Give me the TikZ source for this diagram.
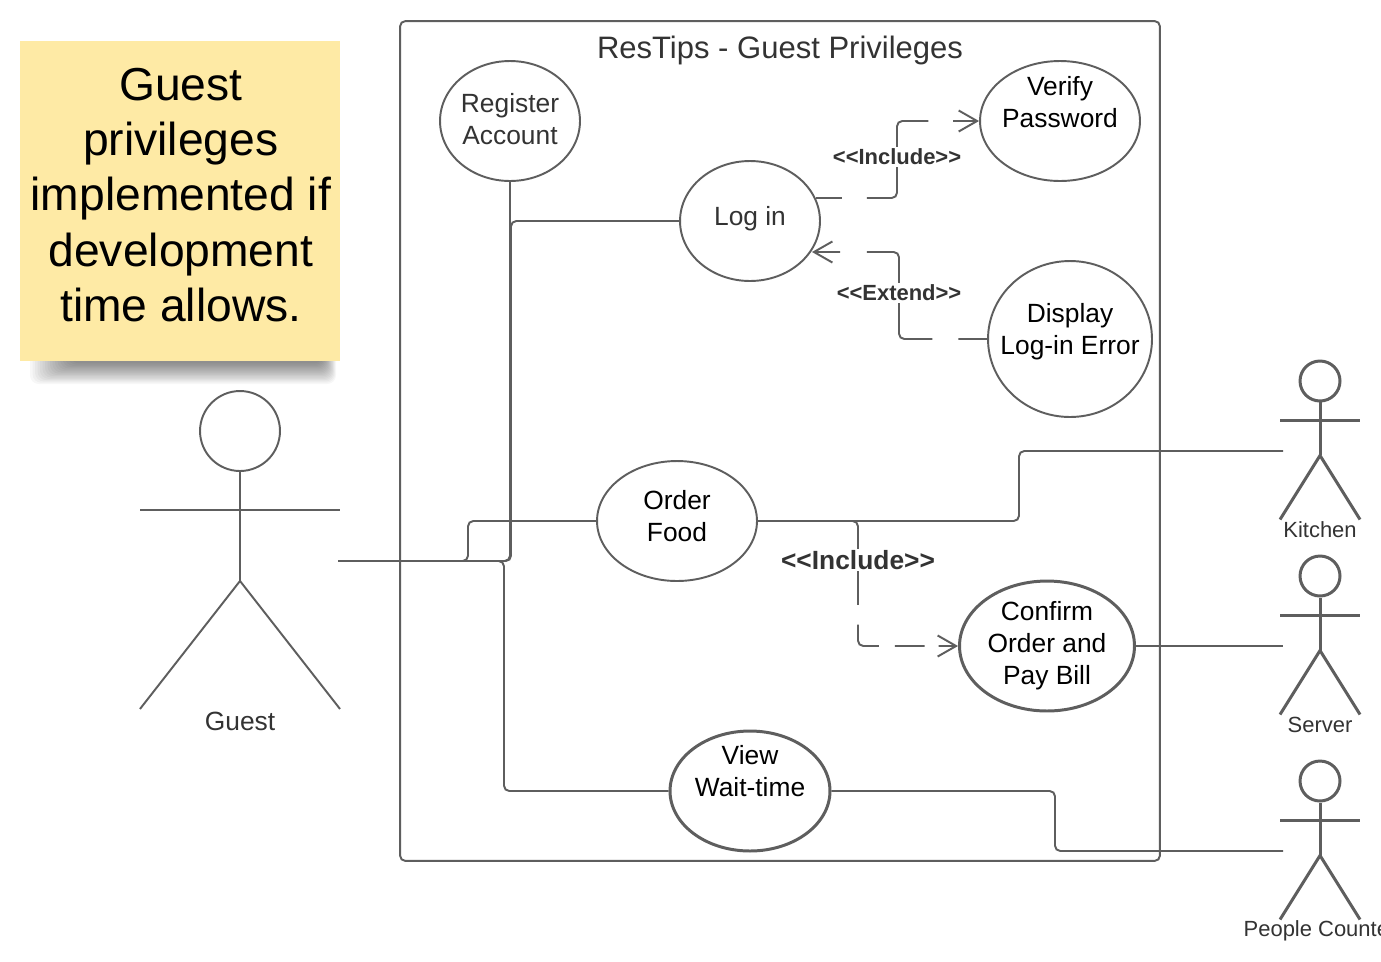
\documentclass[tikz,border=0pt]{standalone}
\usepackage{fontspec}
\setmainfont{Liberation Sans}
\usetikzlibrary{arrows.meta,shapes.geometric}
\definecolor{linegray}{HTML}{5E5E5E}
\definecolor{textgray}{HTML}{333333}
\definecolor{notefill}{HTML}{FEEAA5}
\newcommand{\lift}[1]{\rule[-#1pt]{0pt}{0pt}}
% text of a use case, takes no room in its ellipse: raise, lines
\newcommand{\casetext}[2]{\makebox[0pt]{\smash{\raisebox{#1}{\begin{tabular}{@{}c@{}}#2\end{tabular}}}}}
% one stick figure: name, x of the centre, y of the head, line width, head radius,
% arm half width, neck to arms, neck to hip, hip to feet
\newcommand{\stickman}[9]{
    \node (#1) at (#2,#3) [circle, draw=linegray, line width=#4, minimum size=#5*0.04cm, inner sep=0pt] {};
    \coordinate (#1neck) at (#1.south);
    \coordinate (#1arm) at ([yshift=-#7*0.02cm]#1neck);
    \coordinate (#1hip) at ([yshift=-#8*0.02cm]#1neck);
    \draw [draw=linegray, line width=#4] (#1neck) -- (#1hip);
    \draw [draw=linegray, line width=#4] ([xshift=-#6*0.02cm]#1arm) -- ([xshift=#6*0.02cm]#1arm);
    \draw [draw=linegray, line width=#4] ([xshift=-#6*0.02cm,yshift=-#9*0.02cm]#1hip) -- (#1hip) -- ([xshift=#6*0.02cm,yshift=-#9*0.02cm]#1hip);
}
\begin{document}
\begin{tikzpicture}[x=0.02cm, y=-0.02cm,
    usecase/.style={ellipse, draw=linegray, line width=1.1pt, fill=white, inner sep=0pt, font=\fontsize{15}{18.1}\selectfont},
    usecasebold/.style={usecase, line width=1.7pt},
    wire/.style={draw=linegray, line width=1.1pt, rounded corners=3pt},
    dashwire/.style={wire, -{Straight Barb[length=10.5pt,width=12pt]}},
    stereo/.style={fill=white, inner sep=1pt, text=textgray, font=\fontsize{12.5}{15}\selectfont\bfseries},
    actorname/.style={text=textgray, inner sep=0pt, font=\fontsize{12.5}{15}\selectfont}]
    \useasboundingbox (0,0) rectangle (1381,961);
    \fill [white] (0,0) rectangle (1381,961);

    % note and its shadow
    \foreach \d in {0,1,...,16}
        \fill [black, opacity=0.033, rounded corners=5pt] (30+2.5*\d,340) rectangle (336-0.8*\d,384-1.3*\d);
    \node (note) at (180,201) [rectangle, fill=notefill, minimum width=6.4cm, minimum height=6.4cm, inner sep=0pt, align=center, font=\fontsize{26.3}{31.5}\selectfont]
        {\hspace{1pt}Guest\\\hspace{1pt}privileges\\\hspace{1pt}implemented if\\\hspace{1pt}development\\\hspace{1pt}time allows.\lift{7}};

    % system frame
    \node (frame) at (780,441) [rectangle, draw=linegray, line width=1.1pt, rounded corners=3pt, minimum width=15.2cm, minimum height=16.8cm] {};
    \node (title) at (780,50) [text=textgray, inner sep=0pt, font=\fontsize{17.65}{22}\selectfont] {ResTips - Guest Privileges};

    % use cases
    \node (regacc) at (510,121) [usecase, minimum width=2.8cm, minimum height=2.4cm, text=textgray] {\casetext{-4.4pt}{Register\\Account}};
    \node (login) at (750,221) [usecase, minimum width=2.8cm, minimum height=2.4cm, text=textgray] {\casetext{-2.7pt}{Log in}};
    \node (verify) at (1060,121) [usecase, minimum width=3.2cm, minimum height=2.4cm] {\casetext{5.3pt}{Verify\\Password}};
    \node (display) at (1070,339) [usecase, minimum width=3.28cm, minimum height=3.12cm] {\casetext{0.2pt}{Display\\Log-in Error}};
    \node (order) at (677,521) [usecase, minimum width=3.2cm, minimum height=2.4cm] {\casetext{-2.7pt}{Order\\Food}};
    \node (confirm) at (1047,646) [usecasebold, minimum width=3.5cm, minimum height=2.6cm] {\casetext{-3.8pt}{Confirm\\Order and\\Pay Bill}};
    \node (view) at (750,791) [usecasebold, minimum width=3.2cm, minimum height=2.4cm] {\casetext{5.8pt}{View\\Wait-time}};

    % actors
    \stickman{guest}{240}{431}{1.1pt}{40}{100}{38}{109}{128}
    \stickman{kitchen}{1320}{381}{1.7pt}{20}{40}{18}{53}{64}
    \stickman{server}{1320}{576}{1.7pt}{20}{40}{18}{53}{64}
    \stickman{counter}{1320}{781}{1.7pt}{20}{40}{18}{53}{64}
    \node (guestname) at (240,721) [actorname, font=\fontsize{15}{18}\selectfont] {Guest};
    \node (kitchenname) at (1320,530) [actorname] {Kitchen};
    \node (servername) at (1320,725) [actorname] {Server};
    \node (countername) at (1320,931) [actorname] {People Counter};

    % free ends of the connectors
    \coordinate (guestport) at (338,561);
    \coordinate (kitchenport) at (1283,451);
    \coordinate (serverport) at (1283,646);
    \coordinate (counterport) at (1283,851);

    % plain connectors
    \draw [wire] (regacc.south) |- (guestport);
    \draw [wire] (login.west) -- (511,221) -- (511,561) -- (guestport);
    \draw [wire] (order.west) -- (468,521) -- (468,561) -- (guestport);
    \draw [wire] (view.west) -- (504,791) -- (504,561) -- (guestport);
    \draw [wire] (order.east) -- (1019,521) -- (1019,451) -- (kitchenport);
    \draw [wire] (confirm.east) -- (serverport);
    \draw [wire] (view.east) -- (1055,791) -- (1055,851) -- (counterport);

    % dashed connectors
    \coordinate (loginout) at (816,198);
    \coordinate (loginin) at (812,252);
    \draw [dashwire, dash pattern=on 14.7pt off 14.2pt on 76pt off 14.2pt on 24pt off 20pt] (loginout) -- (897,198) -- (897,121) -- (verify.west);
    \draw [dashwire, dash pattern=on 16.4pt off 14.7pt on 84pt off 15.3pt on 24pt off 20pt] (display.west) -- (899,339) -- (899,252) -- (loginin);
    \draw [dashwire, dash pattern=on 103.2pt off 11.3pt on 22.7pt off 9pt on 17pt off 8pt on 20pt off 20pt] (order.east) -- (858,521) -- (858,646) -- (confirm.west);

    % stereotypes
    \node (incone) at (897,157) [stereo] {<{}<Include>{}>};
    \node (extone) at (899,293) [stereo] {<{}<Extend>{}>};
    \node (inctwo) at (858,560) [stereo, font=\fontsize{15}{18}\selectfont\bfseries] {<{}<Include>{}>};
\end{tikzpicture}
\end{document}
